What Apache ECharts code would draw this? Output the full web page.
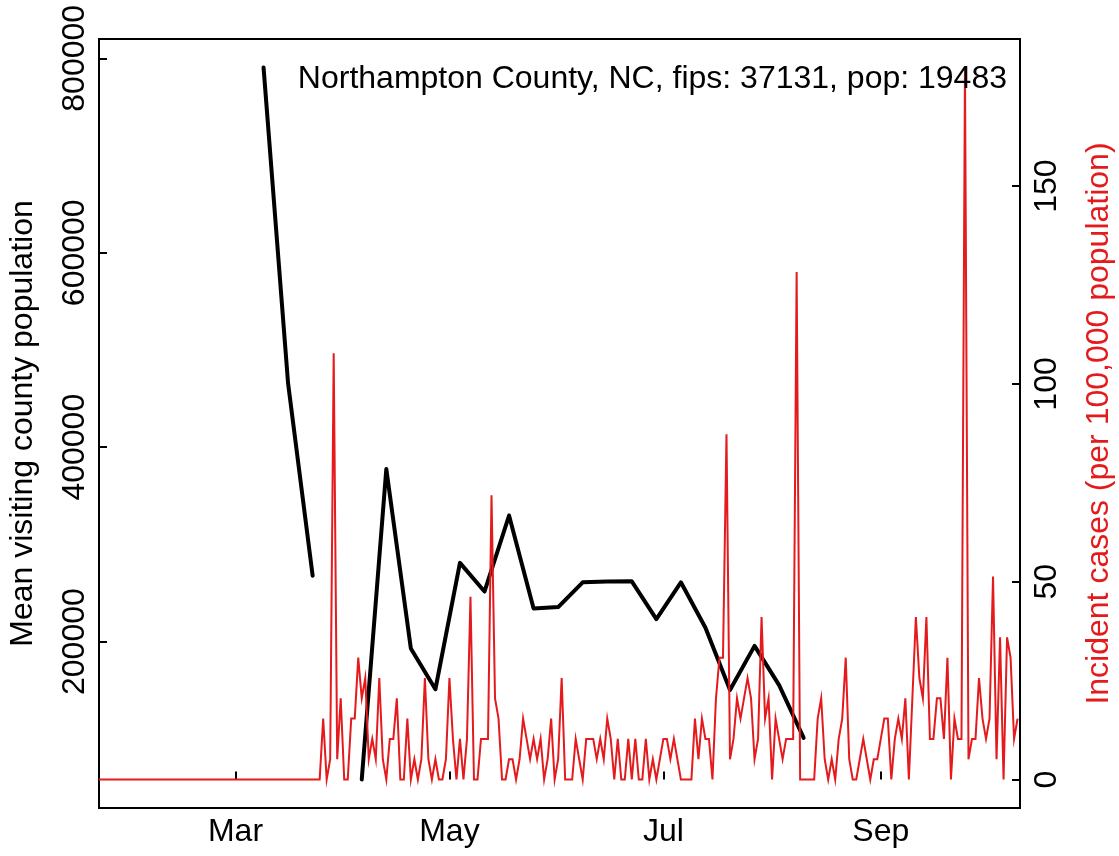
<!DOCTYPE html>
<html>
<head>
<meta charset="utf-8">
<script src="https://cdn.jsdelivr.net/npm/echarts@6/dist/echarts.min.js"></script>
<style>
html,body{margin:0;padding:0;background:#ffffff;}
#chart{width:1119px;height:856px;}
</style>
</head>
<body>
<div id="chart"></div>
<script>
// ---------- data ----------
const chartTitle = 'Northampton County, NC, fips: 37131, pop: 19483';
const leftAxisName = 'Mean visiting county population';
const rightAxisName = 'Incident cases (per 100,000 population)';

// weekly mean visiting county population (null = missing week)
const visitDates = ['2020-03-09','2020-03-16','2020-03-23','2020-03-30','2020-04-06','2020-04-13',
  '2020-04-20','2020-04-27','2020-05-04','2020-05-11','2020-05-18','2020-05-25','2020-06-01',
  '2020-06-08','2020-06-15','2020-06-22','2020-06-29','2020-07-06','2020-07-13','2020-07-20',
  '2020-07-27','2020-08-03','2020-08-10'];
const visitPop = [790540, 465400, 267800, null, 58160, 377450,
  193000, 151000, 281000, 251500, 329700, 234000, 235500,
  261000, 261800, 262000, 223200, 261000, 214300, 150200,
  195600, 155300, 101000];

// daily incident cases per 100,000, starting at redStartDate, one value per day
const redStartDate = '2020-01-22';
const incidence = [
  0,0,0,0,0,0,0,0,0,0,
  0,0,0,0,0,0,0,0,0,0,
  0,0,0,0,0,0,0,0,0,0,
  0,0,0,0,0,0,0,0,0,0,
  0,0,0,0,0,0,0,0,0,0,
  0,0,0,0,0,0,0,0,0,0,
  0,0,0,
  0, 15.4, 0, 5.13, 107.78, 5.13, 20.53, 0, 0, 15.4,
  15.4, 30.8, 20.53, 25.66, 5.13, 10.27, 5.13, 25.66, 5.13, 0,
  10.27, 10.27, 20.53, 0, 0, 15.4, 0, 5.13, 0, 5.13,
  25.66, 5.13, 0, 5.13, 0, 0, 5.13, 25.66, 10.27, 0,
  10.27, 0, 10.27, 46.19, 0, 0, 10.27, 10.27, 10.27, 71.86,
  20.53, 15.4, 0, 0, 5.13, 5.13, 0, 5.13, 15.4, 10.27,
  5.13, 10.27, 5.13, 10.27, 0, 5.13, 15.4, 0, 5.13, 25.66,
  0, 0, 0, 10.27, 5.13, 0, 10.27, 10.27, 10.27, 5.13,
  10.27, 5.13, 15.4, 10.27, 0, 10.27, 0, 0, 10.27, 0,
  10.27, 0, 0, 10.27, 0, 5.13, 0, 5.13, 10.27, 10.27,
  5.13, 10.27, 5.13, 0, 0, 0, 0, 15.4, 5.13, 15.4,
  10.27, 10.27, 0, 20.53, 30.8, 30.8, 87.25, 5.13, 10.27, 20.53,
  15.4, 20.53, 25.66, 20.53, 5.13, 10.27, 41.06, 15.4, 20.53, 0,
  15.4, 10.27, 5.13, 10.27, 10.27, 10.27, 128.32, 0, 0, 0,
  0, 0, 15.4, 20.53, 5.13, 0, 5.13, 0, 10.27, 15.4,
  30.8, 5.13, 0, 0, 5.13, 10.27, 5.13, 0, 5.13, 5.13,
  10.27, 15.4, 15.4, 0, 10.27, 15.4, 10.27, 20.53, 0, 20.53,
  41.06, 25.66, 20.53, 41.06, 10.27, 10.27, 20.53, 20.53, 10.27, 30.8,
  0, 15.4, 10.27, 10.27, 179.64, 5.13, 10.27, 10.27, 25.66, 15.4,
  10.27, 15.4, 51.33, 5.13, 35.93, 0, 35.93, 30.8, 10.27, 15.4
];

// tick labels
const xTickDates = ['2020-03-01','2020-05-01','2020-07-01','2020-09-01'];
const xTickLabels = ['Mar','May','Jul','Sep'];
const leftTicks = [200000, 400000, 600000, 800000];
const rightTicks = [0, 50, 100, 150];

// ---------- build ----------
const DAY = 86400000;
const startTs = Date.parse(redStartDate);
const redData = incidence.map((v, i) => [startTs + i * DAY, v]);
const blackData = visitDates.map((d, i) => [Date.parse(d), visitPop[i]]);
const xTickTs = xTickDates.map(d => Date.parse(d));

const FONT = 'Liberation Sans, Arial, Helvetica, sans-serif';
const RED = '#E41A1C';

const chart = echarts.init(document.getElementById('chart'), null, {renderer: 'canvas'});
chart.setOption({
  animation: false,
  backgroundColor: '#ffffff',
  textStyle: {fontFamily: FONT},
  grid: {
    left: 99, right: 99, top: 39, bottom: 48,
    outerBoundsMode: 'none', containLabel: false,
    show: true, borderColor: '#000000', borderWidth: 2, backgroundColor: 'transparent'
  },
  xAxis: {
    type: 'value',
    min: Date.parse('2020-01-22') + 0.08 * DAY,
    max: Date.parse('2020-10-10') + 0.69 * DAY,
    axisLine: {show: false},
    splitLine: {show: false},
    axisTick: {show: true, inside: true, length: 8, customValues: xTickTs,
      lineStyle: {color: '#000', width: 2}},
    axisLabel: {show: true, customValues: xTickTs, margin: 8, fontSize: 32, color: '#000',
      fontFamily: FONT,
      formatter: function (v) {
        const i = xTickTs.indexOf(v);
        return i >= 0 ? xTickLabels[i] : '';
      }}
  },
  yAxis: [
    {
      type: 'value', position: 'left',
      min: 28850, max: 819850,
      name: leftAxisName, nameLocation: 'middle', nameRotate: 90, nameGap: 60,
      nameTextStyle: {fontSize: 32, color: '#000', fontFamily: FONT},
      axisLine: {show: false},
      splitLine: {show: false},
      axisTick: {show: true, inside: true, length: 8, customValues: leftTicks,
        lineStyle: {color: '#000', width: 2}},
      axisLabel: {show: true, customValues: leftTicks, rotate: 90, margin: 8, fontSize: 32,
        color: '#000', fontFamily: FONT, formatter: v => String(v)}
    },
    {
      type: 'value', position: 'right',
      min: -7.2, max: 187.2,
      name: rightAxisName, nameLocation: 'middle', nameRotate: 90, nameGap: 63,
      nameTextStyle: {fontSize: 32, color: RED, fontFamily: FONT},
      axisLine: {show: false},
      splitLine: {show: false},
      axisTick: {show: true, inside: true, length: 8, customValues: rightTicks,
        lineStyle: {color: '#000', width: 2}},
      axisLabel: {show: true, customValues: rightTicks, rotate: 90, margin: 11, fontSize: 32,
        color: '#000', fontFamily: FONT, formatter: v => String(v)}
    }
  ],
  series: [
    {
      type: 'line', name: 'visits', yAxisIndex: 0, data: blackData,
      showSymbol: false, symbol: 'none', connectNulls: false, z: 2,
      lineStyle: {color: '#000000', width: 4, cap: 'round', join: 'round'}
    },
    {
      type: 'line', name: 'cases', yAxisIndex: 1, data: redData,
      showSymbol: false, symbol: 'none', z: 3, sampling: null,
      lineStyle: {color: RED, width: 2, join: 'miter'}
    }
  ],
  graphic: [
    {
      type: 'text', x: 1007, y: 79.5, z: 10,
      style: {text: chartTitle, fontSize: 32, fontFamily: FONT, fill: '#000',
        align: 'right', verticalAlign: 'middle'}
    }
  ]
});
</script>
</body>
</html>
